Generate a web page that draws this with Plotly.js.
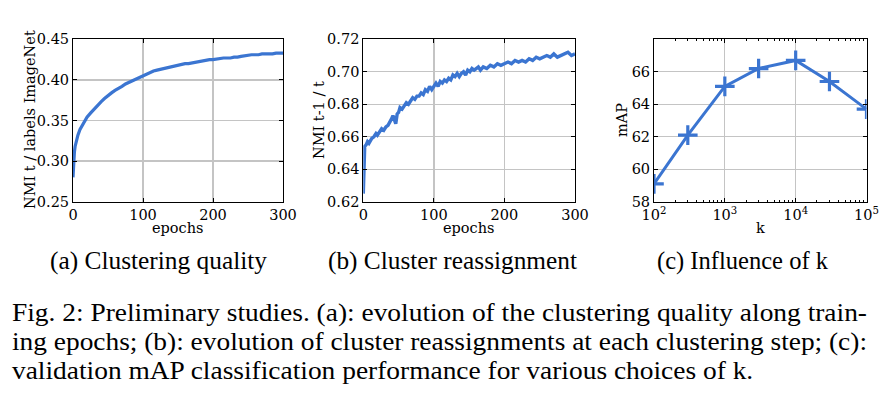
<!DOCTYPE html>
<html>
<head>
<meta charset="utf-8">
<script src="https://cdn.plot.ly/plotly-3.0.1.min.js"></script>
<style>
  html, body { margin: 0; padding: 0; background: #ffffff; }
  #chart { width: 886px; height: 395px; }
</style>
</head>
<body>
<div id="chart"></div>
<script>
// ---- Data ----
// (a) Clustering quality: NMI between clusters at epoch t and ImageNet labels
const aEpochs = [0, 1, 2, 3, 5, 7, 10, 13, 16, 20, 25, 30, 35, 40, 45, 50, 55, 60, 65, 70, 75, 80, 85, 90, 95,
  100, 105, 110, 115, 120, 125, 130, 135, 140, 145, 150, 155, 160, 165, 170, 175, 180, 185, 190, 195,
  200, 205, 210, 215, 220, 225, 230, 235, 240, 245, 250, 255, 260, 265, 270, 275, 280, 285, 290, 295, 300];
const aNMI = [0.280, 0.302, 0.311, 0.318, 0.326, 0.332, 0.339, 0.344, 0.349, 0.354, 0.359, 0.364, 0.368, 0.373, 0.377, 0.381, 0.384, 0.387, 0.389, 0.392, 0.395, 0.397, 0.399, 0.401, 0.403,
  0.405, 0.408, 0.410, 0.411, 0.412, 0.413, 0.414, 0.415, 0.416, 0.417, 0.418, 0.419, 0.420, 0.420, 0.421, 0.422, 0.423, 0.423, 0.424, 0.425,
  0.425, 0.426, 0.426, 0.427, 0.427, 0.427, 0.428, 0.428, 0.429, 0.430, 0.430, 0.431, 0.431, 0.431, 0.432, 0.432, 0.432, 0.432, 0.433, 0.433, 0.433];

// (b) Cluster reassignment: NMI between assignments at epoch t-1 and t
const bEpochs = [0, 1, 2, 4, 6, 8, 10, 12, 15, 18, 20, 23, 26, 29, 32, 35, 38, 40, 42, 44, 46, 48, 50, 52, 55, 58, 61, 64, 67, 70,
  73, 76, 79, 82, 85, 88, 91, 94, 97, 100, 103, 106, 109, 112, 115, 118, 121, 124, 127, 130, 133, 136, 139, 142, 145,
  148, 151, 154, 157, 160, 163, 166, 170, 175, 180, 185, 190, 195, 200, 205, 210, 215, 220, 225, 230, 235, 240, 245,
  250, 255, 260, 265, 270, 275, 280, 285, 290, 295, 300];
const bNMI = [0.625, 0.645, 0.654, 0.655, 0.657, 0.656, 0.658, 0.659, 0.660, 0.662, 0.661, 0.663, 0.665, 0.664, 0.666, 0.667, 0.669, 0.671, 0.673, 0.670, 0.668, 0.674, 0.675, 0.678, 0.677, 0.679, 0.681, 0.680, 0.682, 0.684,
  0.683, 0.685, 0.685, 0.687, 0.686, 0.689, 0.688, 0.691, 0.689, 0.691, 0.693, 0.691, 0.694, 0.693, 0.695, 0.694, 0.696, 0.695, 0.698, 0.697, 0.699, 0.697, 0.699, 0.700, 0.698,
  0.701, 0.700, 0.702, 0.701, 0.702, 0.703, 0.701, 0.703, 0.702, 0.704, 0.703, 0.705, 0.704, 0.705, 0.706, 0.705, 0.707, 0.706, 0.707, 0.706, 0.708, 0.707, 0.709,
  0.708, 0.709, 0.710, 0.709, 0.711, 0.709, 0.710, 0.711, 0.712, 0.710, 0.711];

// (c) Influence of k
const cK = [100, 300, 1000, 3000, 10000, 30000, 100000];
const cMAP = [59.1, 62.1, 65.1, 66.2, 66.7, 65.4, 63.7];

// Tick labels
const aYTicks = [0.25, 0.30, 0.35, 0.40, 0.45];
const aYTickText = ['0.25', '0.30', '0.35', '0.40', '0.45'];
const bYTicks = [0.62, 0.64, 0.66, 0.68, 0.70, 0.72];
const bYTickText = ['0.62', '0.64', '0.66', '0.68', '0.70', '0.72'];
const epochTicks = [0, 100, 200, 300];
const cXTicks = [100, 1000, 10000, 100000];
const cXTickText = ['10<sup>2</sup>', '10<sup>3</sup>', '10<sup>4</sup>', '10<sup>5</sup>'];
const cYTicks = [58, 60, 62, 64, 66];

// Texts
const axisTitles = {
  aY: 'NMI t / labels ImageNet', aX: 'epochs',
  bY: 'NMI t-1 / t', bX: 'epochs',
  cY: 'mAP', cX: 'k'
};
const subCaptions = ['(a) Clustering quality', '(b) Cluster reassignment', '(c) Influence of k'];
const captionLines = [
  'Fig. 2: Preliminary studies. (a): evolution of the clustering quality along train-',
  'ing epochs; (b): evolution of cluster reassignments at each clustering step; (c):',
  'validation mAP classification performance for various choices of k.'
];

// ---- Layout helpers ----
const W = 886, H = 395;
const px = v => v / W;
const py = v => 1 - v / H;
const BLUE = '#3b75d1';
const SERIF = 'DejaVu Serif, serif';
const CAPSERIF = 'Liberation Serif, Times New Roman, serif';
const TICKFONT = { family: SERIF, size: 14.5, color: '#000' };
const TITLEFONT = { family: SERIF, size: 14.5, color: '#000' };
const CAPFONT = { family: CAPSERIF, size: 25, color: '#000' };

const yDomain = [py(201.7), py(39.3)];

function baseAxis(extra) {
  return Object.assign({
    showline: true, linecolor: '#000', linewidth: 1, mirror: 'ticks',
    ticks: 'inside', ticklen: 4, tickwidth: 1, tickcolor: '#000',
    showgrid: true, gridcolor: '#c4c4c4', gridwidth: 1.3,
    zeroline: false, tickfont: TICKFONT, fixedrange: true
  }, extra);
}

const traces = [
  { x: aEpochs, y: aNMI, xaxis: 'x', yaxis: 'y', mode: 'lines',
    line: { color: BLUE, width: 3.2 }, hoverinfo: 'skip' },
  { x: bEpochs, y: bNMI, xaxis: 'x2', yaxis: 'y2', mode: 'lines',
    line: { color: BLUE, width: 3.4 }, hoverinfo: 'skip' },
  { x: cK, y: cMAP, xaxis: 'x3', yaxis: 'y3', mode: 'lines+markers',
    line: { color: BLUE, width: 3 },
    marker: { symbol: 'cross-thin', size: 14, color: BLUE, line: { color: BLUE, width: 3.2 } },
    hoverinfo: 'skip' }
];

// minor tick positions for the log axis
const cMinor = [];
for (let e = 2; e < 5; e++) for (let m = 2; m <= 9; m++) cMinor.push(m * Math.pow(10, e));

const annotations = [];
function ann(text, x, y, font, opts) {
  annotations.push(Object.assign({
    text: text, x: px(x), y: py(y), xref: 'paper', yref: 'paper',
    showarrow: false, font: font, xanchor: 'center', yanchor: 'middle'
  }, opts || {}));
}
// axis titles
ann(axisTitles.aY, 30, 120, TITLEFONT, { textangle: -90 });
ann(axisTitles.aX, 178, 228, TITLEFONT);
ann(axisTitles.bY, 319, 120, TITLEFONT, { textangle: -90 });
ann(axisTitles.bX, 469, 228, TITLEFONT);
ann(axisTitles.cY, 622, 120, TITLEFONT, { textangle: -90 });
ann(axisTitles.cX, 760, 228, TITLEFONT);
// sub captions
ann(subCaptions[0], 158.5, 261, CAPFONT);
ann(subCaptions[1], 452.5, 261, CAPFONT);
ann(subCaptions[2], 742.5, 261, CAPFONT);
// figure caption
ann(captionLines[0], 12, 313, CAPFONT, { xanchor: 'left' });
ann(captionLines[1], 12, 341.5, CAPFONT, { xanchor: 'left' });
ann(captionLines[2], 12, 370, CAPFONT, { xanchor: 'left' });

const layout = {
  width: W, height: H,
  margin: { l: 0, r: 0, t: 0, b: 0 },
  paper_bgcolor: '#ffffff', plot_bgcolor: '#ffffff',
  showlegend: false,
  xaxis: baseAxis({ domain: [px(73), px(283)], range: [0, 300], tickvals: epochTicks, anchor: 'y' }),
  yaxis: baseAxis({ domain: yDomain, range: [0.25, 0.45], tickvals: aYTicks, ticktext: aYTickText, anchor: 'x' }),
  xaxis2: baseAxis({ domain: [px(363.3), px(575)], range: [0, 300], tickvals: epochTicks, anchor: 'y2' }),
  yaxis2: baseAxis({ domain: yDomain, range: [0.62, 0.72], tickvals: bYTicks, ticktext: bYTickText, anchor: 'x2' }),
  xaxis3: baseAxis({ domain: [px(654), px(866.5)], type: 'log', range: [2, 5], tickvals: cXTicks, ticktext: cXTickText, anchor: 'y3',
    minor: { tickvals: cMinor, ticks: 'inside', ticklen: 2, tickcolor: '#000', showgrid: false } }),
  yaxis3: baseAxis({ domain: yDomain, range: [58, 68], tickvals: cYTicks, anchor: 'x3' }),
  annotations: annotations
};

// left edge and width (px) of the caption texts as they appear in the reference
const captionBoxes = {};
captionBoxes[subCaptions[0]] = [50, 217];
captionBoxes[subCaptions[1]] = [328, 249];
captionBoxes[subCaptions[2]] = [657, 171];
captionBoxes[captionLines[0]] = [12, 855];
captionBoxes[captionLines[1]] = [12, 855];

function fitText(n, left, width) {
  n.setAttribute('textLength', width);
  n.setAttribute('lengthAdjust', 'spacingAndGlyphs');
  const r = n.getBoundingClientRect();
  const x0 = parseFloat(n.getAttribute('x')) || 0;
  n.setAttribute('x', x0 + (left - r.left));
}

Plotly.newPlot('chart', traces, layout, { staticPlot: true, displayModeBar: false }).then(function (gd) {
  const nodes = Array.from(gd.querySelectorAll('text.annotation-text'));
  let factor = 1;
  const first = nodes.find(n => n.textContent === captionLines[0]);
  if (first) factor = captionBoxes[captionLines[0]][1] / first.getComputedTextLength();
  nodes.forEach(function (n) {
    const t = n.textContent;
    if (captionBoxes[t]) fitText(n, captionBoxes[t][0], captionBoxes[t][1]);
    else if (t === captionLines[2]) fitText(n, 12, n.getComputedTextLength() * factor);
  });
});
</script>
</body>
</html>
